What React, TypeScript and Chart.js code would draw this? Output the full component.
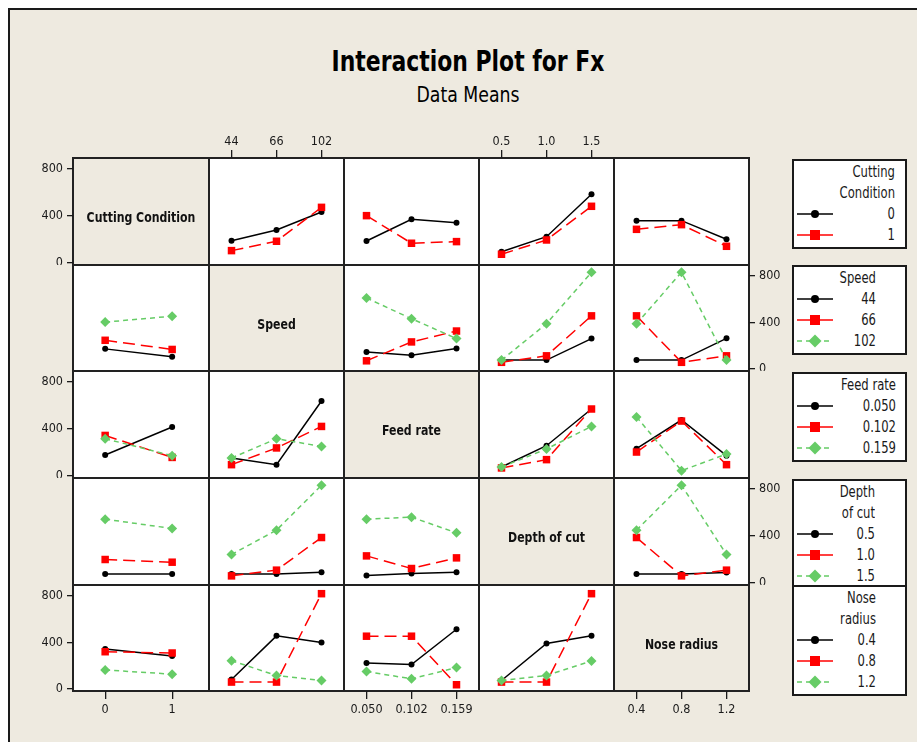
import React, { useEffect, useRef } from "react";
import { Chart, registerables } from "chart.js";

Chart.register(...registerables);

// ---------- data ----------
const factorNames = ["Cutting Condition", "Speed", "Feed rate", "Depth of cut", "Nose radius"];
const ccLevels = ["0", "1"];
const speedLevels = ["44", "66", "102"];
const feedLevels = ["0.050", "0.102", "0.159"];
const depthLevels = ["0.5", "1.0", "1.5"];
const noseLevels = ["0.4", "0.8", "1.2"];
const yTicks = [0, 400, 800];
const legendTitles = [["Cutting", "Condition"], ["Speed"], ["Feed rate"], ["Depth", "of cut"], ["Nose", "radius"]];

// Data means of Fx: one row per level of the trace factor, one value per level of the x factor
const ccBySpeed = [[188, 279, 433], [103, 183, 473]];
const ccByFeed = [[185, 371, 342], [402, 166, 180]];
const ccByDepth = [[94, 222, 585], [72, 194, 482]];
const ccByNose = [[359, 359, 200], [285, 325, 140]];

const speedByCc = [[171, 103], [245, 166], [402, 453]];
const speedByFeed = [[145, 117, 174], [68, 231, 325], [610, 431, 260]];
const speedByDepth = [[74, 74, 260], [55, 111, 456], [74, 388, 832]];
const speedByNose = [[74, 74, 262], [456, 55, 111], [388, 832, 74]];

const feedByCc = [[177, 416], [344, 156], [316, 171]];
const feedBySpeed = [[151, 94, 638], [94, 237, 421], [151, 316, 250]];
const feedByDepth = [[74, 256, 570], [66, 137, 570], [74, 228, 421]];
const feedByNose = [[231, 476, 171], [202, 467, 94], [502, 43, 185]];

const depthByCc = [[75, 75], [198, 175], [543, 463]];
const depthBySpeed = [[75, 75, 90], [58, 107, 386], [241, 449, 833]];
const depthByFeed = [[61, 79, 90], [229, 121, 212], [543, 560, 426]];
const depthByNose = [[75, 75, 87], [386, 58, 107], [449, 833, 241]];

const noseByCc = [[342, 282], [319, 308], [162, 125]];
const noseBySpeed = [[80, 456, 399], [57, 57, 820], [242, 114, 71]];
const noseByFeed = [[222, 208, 513], [453, 453, 34], [148, 85, 182]];
const noseByDepth = [[71, 390, 456], [57, 57, 820], [71, 114, 239]];

const levelsList = [ccLevels, speedLevels, feedLevels, depthLevels, noseLevels];
const panelData: (number[][] | null)[][] = [
  [null, ccBySpeed, ccByFeed, ccByDepth, ccByNose],
  [speedByCc, null, speedByFeed, speedByDepth, speedByNose],
  [feedByCc, feedBySpeed, null, feedByDepth, feedByNose],
  [depthByCc, depthBySpeed, depthByFeed, null, depthByNose],
  [noseByCc, noseBySpeed, noseByFeed, noseByDepth, null],
];

// ---------- layout / style ----------
const FONT = "'Liberation Sans Narrow', 'DejaVu Sans Condensed', 'Arial Narrow', sans-serif";
const BEIGE = "#EEEAE0";
const INK = "#1a1a1a";
const colX = [73, 209, 344, 479, 614, 749];
const rowY = [158, 265, 371, 478, 585, 691];
const Y_MIN = -20;
const Y_MAX = 895;
const AX_L = 50, AX_R = 40, AX_T = 30, AX_B = 35;

const seriesStyles = [
  { color: "#000000", point: "circle", radius: 3, dash: [] as number[], lr: 4, lineDash: "" },
  { color: "#FF0000", point: "rect", radius: 5.3, dash: [12, 6], lr: 5, lineDash: "" },
  { color: "#66CC66", point: "rectRot", radius: 5, dash: [5, 4], lr: 6.5, lineDash: "5,4" },
];

const legendTops = [159, 265, 372, 479, 585];
const legendRight = [895, 876, 896, 875, 876];
const LEG_LEFT = 792;
const LEG_W = 115;
const NARROW = 0.86;

const panelPlugin = {
  id: "panelFrame",
  beforeDraw(chart: any, _a: any, opts: any) {
    const { ctx, chartArea: a } = chart;
    ctx.save();
    ctx.fillStyle = opts.fill;
    ctx.fillRect(a.left, a.top, a.right - a.left, a.bottom - a.top);
    ctx.restore();
  },
  afterDraw(chart: any, _a: any, opts: any) {
    const { ctx, chartArea: a } = chart;
    ctx.save();
    if (opts.label) {
      ctx.save();
      ctx.translate((a.left + a.right) / 2, (a.top + a.bottom) / 2 + 7);
      ctx.scale(0.84, 1);
      ctx.fillStyle = "#111";
      ctx.font = `bold 14.5px ${FONT}`;
      ctx.textAlign = "center";
      ctx.textBaseline = "middle";
      ctx.fillText(opts.label, 0, 0);
      ctx.restore();
    }
    ctx.strokeStyle = "#222";
    ctx.lineWidth = 1;
    ctx.setLineDash([]);
    ctx.strokeRect(a.left + 0.5, a.top + 0.5, a.right - a.left - 1, a.bottom - a.top - 1);
    ctx.restore();
  },
};

function Panel({ r, c }: { r: number; c: number }) {
  const ref = useRef<HTMLCanvasElement | null>(null);
  const hasLeft = c === 0 && r % 2 === 0;
  const hasRight = c === 4 && r % 2 === 1;
  const hasTop = r === 0 && c % 2 === 1;
  const hasBottom = r === 4 && c % 2 === 0;
  const L = hasLeft ? AX_L : 0;
  const R = hasRight ? AX_R : 0;
  const T = hasTop ? AX_T : 0;
  const B = hasBottom ? AX_B : 0;
  const pw = colX[c + 1] - colX[c];
  const ph = rowY[r + 1] - rowY[r];
  const width = pw + L + R;
  const height = ph + T + B;

  useEffect(() => {
    const xLevels = levelsList[c];
    const isDiag = r === c;
    const series = panelData[r][c] || [];
    const datasets = series.map((vals, k) => {
      const st = seriesStyles[k];
      return {
        label: levelsList[r][k],
        data: vals.map((v, i) => ({ x: i, y: v })),
        borderColor: st.color,
        backgroundColor: st.color,
        borderWidth: 1.5,
        borderDash: st.dash,
        pointStyle: st.point,
        pointRadius: st.radius,
        pointBorderWidth: 0,
        pointBackgroundColor: st.color,
        tension: 0,
        order: 3 - k,
      };
    });
    const tickFont = { family: FONT, size: 12.5 };
    const xMin = xLevels.length === 2 ? -0.48 : -0.5;
    const xMax = xLevels.length === 2 ? 1.55 : 2.5;
    const showX = hasTop || hasBottom;
    const showY = hasLeft || hasRight;
    const chart = new Chart(ref.current as HTMLCanvasElement, {
      type: "line",
      data: { datasets: datasets as any },
      plugins: [panelPlugin as any],
      options: {
        animation: false,
        responsive: false,
        devicePixelRatio: 1,
        layout: { padding: 0, autoPadding: false },
        plugins: {
          legend: { display: false },
          tooltip: { enabled: false },
          panelFrame: { fill: isDiag ? BEIGE : "#FFFFFF", label: isDiag ? factorNames[r] : "" },
        } as any,
        scales: {
          x: {
            type: "linear",
            display: showX,
            position: hasTop ? "top" : "bottom",
            min: xMin,
            max: xMax,
            bounds: "data",
            afterBuildTicks: (s: any) => {
              s.ticks = xLevels.map((_, i) => ({ value: i }));
            },
            afterFit: (s: any) => {
              if (showX) {
                s.height = hasTop ? T : B;
                s.paddingLeft = 0; s.paddingRight = 0; s.paddingTop = 0; s.paddingBottom = 0;
              }
            },
            ticks: {
              callback: (_v: any, i: number) => xLevels[i],
              autoSkip: false,
              maxRotation: 0,
              minRotation: 0,
              padding: hasTop ? 1 : 3,
              color: INK,
              font: tickFont,
            },
            grid: { display: true, drawOnChartArea: false, drawTicks: true, tickLength: 8, color: INK, lineWidth: 1.3 },
            border: { display: false },
          },
          y: {
            type: "linear",
            display: showY,
            position: hasRight ? "right" : "left",
            min: Y_MIN,
            max: Y_MAX,
            bounds: "data",
            afterBuildTicks: (s: any) => {
              s.ticks = yTicks.map((v) => ({ value: v }));
            },
            afterFit: (s: any) => {
              if (showY) {
                s.width = hasLeft ? L : R;
                s.paddingLeft = 0; s.paddingRight = 0; s.paddingTop = 0; s.paddingBottom = 0;
              }
            },
            ticks: { padding: 4, color: INK, font: tickFont },
            grid: { display: true, drawOnChartArea: false, drawTicks: true, tickLength: 6, color: INK, lineWidth: 1.3 },
            border: { display: false },
          },
        } as any,
      },
    });
    return () => chart.destroy();
  }, [r, c]);

  return (
    <canvas
      ref={ref}
      width={width}
      height={height}
      style={{ position: "absolute", left: colX[c] - L, top: rowY[r] - T, width, height }}
    />
  );
}

function MarkerSvg({ k }: { k: number }) {
  const st = seriesStyles[k];
  const cx = 18, cy = 8;
  let marker: any;
  if (st.point === "circle") marker = <circle cx={cx} cy={cy} r={st.lr} fill={st.color} />;
  else if (st.point === "rect")
    marker = <rect x={cx - st.lr} y={cy - st.lr} width={st.lr * 2} height={st.lr * 2} fill={st.color} />;
  else
    marker = (
      <polygon
        points={`${cx},${cy - st.lr} ${cx + st.lr},${cy} ${cx},${cy + st.lr} ${cx - st.lr},${cy}`}
        fill={st.color}
      />
    );
  return (
    <svg width={36} height={16} style={{ position: "absolute", left: 0, top: 0 }}>
      <line x1={0} y1={cy} x2={36} y2={cy} stroke={st.color} strokeWidth={1.5} strokeDasharray={st.lineDash || undefined} />
      {marker}
    </svg>
  );
}

function LegendText({ text, right, cy }: { text: string; right: number; cy: number }) {
  return (
    <div
      style={{
        position: "absolute", left: LEG_LEFT, width: right - LEG_LEFT, top: cy - 10, height: 20,
        lineHeight: "20px", textAlign: "right", fontSize: 15, fontFamily: FONT, color: INK, whiteSpace: "nowrap",
        transform: `scaleX(${NARROW})`, transformOrigin: "right center",
      }}
    >
      {text}
    </div>
  );
}

function Legend({ idx }: { idx: number }) {
  const titles = legendTitles[idx];
  const levels = levelsList[idx];
  const top = legendTops[idx];
  const n = titles.length + levels.length;
  const h = 12.5 + 21 * (n - 1) + 14;
  const right = legendRight[idx];
  const lines: any[] = [];
  titles.forEach((t, i) => {
    lines.push(<LegendText key={"t" + i} text={t} right={right} cy={top + 12.5 + 21 * i} />);
  });
  levels.forEach((lv, k) => {
    const cy = top + 12.5 + 21 * (titles.length + k);
    lines.push(
      <div key={"m" + k} style={{ position: "absolute", left: 797, top: cy - 8, width: 36, height: 16 }}>
        <MarkerSvg k={k} />
      </div>
    );
    lines.push(<LegendText key={"l" + k} text={lv} right={right} cy={cy} />);
  });
  return (
    <>
      <div
        style={{
          position: "absolute", left: LEG_LEFT, top, width: LEG_W, height: h,
          border: `2px solid ${INK}`, boxSizing: "border-box", background: "#FFFFFF",
        }}
      />
      {lines}
    </>
  );
}

export default function App() {
  const panels: any[] = [];
  for (let r = 0; r < 5; r++) for (let c = 0; c < 5; c++) panels.push(<Panel key={`${r}-${c}`} r={r} c={c} />);
  return (
    <div style={{ position: "absolute", left: 0, top: 0, width: 917, height: 742, overflow: "hidden", background: "#FFFFFF" }}>
      <div
        style={{
          position: "absolute", left: 8, top: 8, width: 909, height: 734, background: BEIGE,
          borderTop: `2px solid ${INK}`, borderLeft: `2px solid ${INK}`, boxSizing: "border-box",
        }}
      />
      <div
        style={{
          position: "absolute", left: 168, width: 600, top: 46, height: 30, lineHeight: "30px",
          textAlign: "center", fontSize: 29, fontWeight: "bold", fontFamily: FONT, color: "#000",
          transform: "scaleX(0.84)", transformOrigin: "center center", whiteSpace: "nowrap",
        }}
      >
        Interaction Plot for Fx
      </div>
      <div
        style={{
          position: "absolute", left: 167.5, width: 600, top: 84, height: 22, lineHeight: "22px",
          textAlign: "center", fontSize: 22, fontFamily: FONT, color: "#000",
          transform: "scaleX(0.875)", transformOrigin: "center center", whiteSpace: "nowrap",
        }}
      >
        Data Means
      </div>
      <div
        style={{
          position: "absolute", left: colX[0] - 1, top: rowY[0] - 1, width: colX[5] - colX[0] + 2,
          height: rowY[5] - rowY[0] + 2, border: "1px solid #222", boxSizing: "border-box",
        }}
      />
      {panels}
      {[0, 1, 2, 3, 4].map((i) => (
        <Legend key={i} idx={i} />
      ))}
    </div>
  );
}
